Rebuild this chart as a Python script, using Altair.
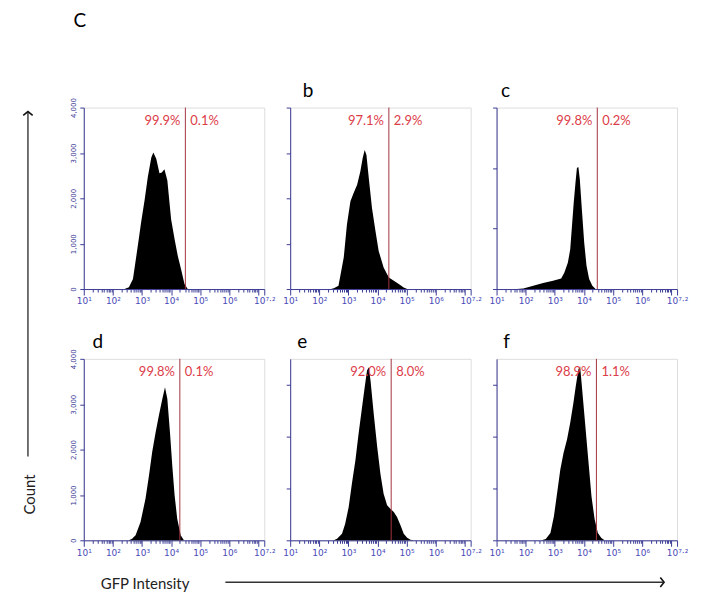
import math
import altair as alt
import pandas as pd

# ---- data: x = log10(GFP intensity), y = count ----
a_x = [2.40, 2.55, 2.69, 2.86, 2.97, 3.09, 3.20, 3.32, 3.39, 3.49, 3.60, 3.68, 3.77, 3.87, 4.00, 4.12, 4.23, 4.34, 4.46, 4.57]
a_y = [0, 40, 220, 970, 1470, 1960, 2470, 2900, 3010, 2870, 2550, 2570, 2640, 2400, 1540, 1100, 730, 440, 110, 0]

b_x = [2.40, 2.50, 2.66, 2.84, 2.95, 3.07, 3.18, 3.30, 3.41, 3.49, 3.56, 3.62, 3.70, 3.81, 3.93, 4.04, 4.21, 4.39, 4.56, 4.73, 4.90, 5.02]
b_y = [0, 20, 73, 693, 1423, 1934, 2117, 2300, 2590, 2883, 3066, 2956, 2445, 1788, 1277, 839, 474, 255, 182, 109, 36, 0]

c_x = [1.70, 1.92, 2.26, 2.60, 2.94, 3.22, 3.33, 3.45, 3.53, 3.59, 3.65, 3.71, 3.76, 3.81, 3.86, 3.93, 4.01, 4.09, 4.18, 4.29, 4.40]
c_y = [0, 11, 55, 99, 137, 176, 274, 439, 658, 1042, 1426, 1755, 2002, 2019, 1810, 1316, 768, 384, 165, 55, 0]

d_x = [2.55, 2.66, 2.78, 2.95, 3.12, 3.24, 3.35, 3.47, 3.58, 3.70, 3.79, 3.87, 3.96, 4.04, 4.12, 4.21, 4.33, 4.44]
d_y = [0, 37, 110, 404, 917, 1431, 1945, 2385, 2752, 3119, 3376, 3119, 2385, 1651, 991, 477, 110, 0]

e_x = [2.50, 2.61, 2.78, 2.89, 3.01, 3.12, 3.24, 3.35, 3.47, 3.56, 3.64, 3.70, 3.76, 3.87, 3.99, 4.10, 4.21, 4.33, 4.44, 4.56, 4.67, 4.79, 4.90, 5.02, 5.13, 5.25]
e_y = [0, 32, 128, 321, 642, 1092, 1541, 2055, 2569, 2954, 3276, 3340, 3083, 2441, 1798, 1285, 899, 674, 610, 546, 450, 289, 128, 51, 13, 0]

f_x = [2.55, 2.69, 2.85, 2.97, 3.08, 3.19, 3.30, 3.42, 3.53, 3.64, 3.72, 3.81, 3.87, 3.92, 4.03, 4.15, 4.26, 4.37, 4.48, 4.60, 4.71]
f_y = [0, 26, 142, 463, 914, 1364, 1686, 1943, 2265, 2651, 2973, 3295, 3359, 3037, 2329, 1557, 849, 399, 142, 45, 0]

panel_letters = ["", "b", "c", "d", "e", "f"]
gates = [4.49, 4.39, 4.46, 4.30, 4.47, 4.43]
left_pct = ["99.9%", "97.1%", "99.8%", "99.8%", "92.0%", "98.9%"]
right_pct = ["0.1%", "2.9%", "0.2%", "0.1%", "8.0%", "1.1%"]
y_max = [4000, 4000, 3000, 4000, 3500, 3500]
y_ticks = [0, 1000, 2000, 3000, 4000]
x_major = [1, 2, 3, 4, 5, 6, 7, 7.2]

xs = [a_x, b_x, c_x, d_x, e_x, f_x]
ys = [a_y, b_y, c_y, d_y, e_y, f_y]

# ---- styling ----
BLUE = "#3b3b96"
LBLUE = "#4a4ab8"
RED = "#dc3c48"
GATE = "#a3333f"
FONT = "Lato"
W, H = 181, 182
letter_dx = [0, 18, 9, 14, 12, 10]

minor = [n + math.log10(k) for n in range(1, 7) for k in range(2, 10)]
x_values = sorted(x_major + minor)

label_expr = ("datum.value == 1 ? '10\u00b9' : datum.value == 2 ? '10\u00b2' : "
              "datum.value == 3 ? '10\u00b3' : datum.value == 4 ? '10\u2074' : "
              "datum.value == 5 ? '10\u2075' : datum.value == 6 ? '10\u2076' : "
              "datum.value == 7.2 ? '10\u2077\u00b7\u00b2' : ''")


def panel(i):
    df = pd.DataFrame({"x": xs[i], "y": ys[i]})
    info = pd.DataFrame({"g": [gates[i]], "l": [left_pct[i]], "r": [right_pct[i]],
                         "letter": [panel_letters[i]]})
    xscale = alt.Scale(domain=[1, 7.2], nice=False, zero=False)
    yscale = alt.Scale(domain=[0, y_max[i]], nice=False)
    xaxis = alt.Axis(
        values=x_values, labelExpr=label_expr, labelOverlap=False, labelFlush=False,
        tickSize={"condition": {"test": "indexof([1,2,3,4,5,6,7,7.2], datum.value) >= 0", "value": 6}, "value": 3},
        labelFontSize=9, labelColor=LBLUE, labelPadding=2, grid=False, domainColor=BLUE,
        tickColor=BLUE, labelFont="DejaVu Sans", title=None)
    yvals = [v for v in y_ticks if v <= y_max[i]]
    show_labels = i in (0, 3)
    yaxis = alt.Axis(
        values=yvals, labelExpr="format(datum.value, ',')", labels=show_labels, labelAngle=270,
        labelAlign="center", labelBaseline="bottom", labelFontSize=7, labelColor=BLUE, tickSize=4,
        labelPadding=3, grid=False, domainColor=BLUE, tickColor=BLUE, labelFont="DejaVu Sans",
        labelOverlap=False, title=None)

    area = alt.Chart(df).mark_area(color="black", interpolate="linear").encode(
        x=alt.X("x:Q", scale=xscale, axis=xaxis),
        y=alt.Y("y:Q", scale=yscale, axis=yaxis),
    )
    base = alt.Chart(info)
    gx = alt.X("g:Q", scale=xscale, axis=xaxis)
    gate = base.mark_rule(color=GATE, strokeWidth=1).encode(x=gx)
    tl = base.mark_text(color=RED, fontSize=13, font=FONT, align="right", baseline="middle", dx=-5).encode(
        x=gx, y=alt.value(13), text="l:N")
    tr = base.mark_text(color=RED, fontSize=13, font=FONT, align="left", baseline="middle", dx=5).encode(
        x=gx, y=alt.value(13), text="r:N")
    layers = [area, gate, tl, tr]
    if panel_letters[i]:
        layers.append(base.mark_text(color="black", fontSize=19, font=FONT, align="center",
                                     baseline="middle").encode(
            x=alt.value(letter_dx[i]), y=alt.value(-17), text="letter:N"))
    if i == 0:
        layers.append(base.mark_text(color="black", fontSize=19, font=FONT, align="center",
                                     baseline="middle").encode(
            x=alt.value(-4), y=alt.value(-87), text=alt.value("C")))
    if i == 3:
        # Count axis arrow
        layers.append(base.mark_rule(color="#444", strokeWidth=1.5).encode(
            x=alt.value(-56), y=alt.value(-247), y2=alt.value(98)))
        layers.append(base.mark_point(shape="M -1 0.8 L 0 0 L 1 0.8", filled=False, color="#111",
                                      strokeWidth=1.6, size=90, opacity=1).encode(
            x=alt.value(-56), y=alt.value(-248)))
        layers.append(base.mark_text(color="#222", fontSize=15, font=FONT, angle=270, align="center",
                                     baseline="middle").encode(
            x=alt.value(-54), y=alt.value(136), text=alt.value("Count")))
        # GFP Intensity arrow
        layers.append(base.mark_rule(color="#333", strokeWidth=1.5).encode(
            x=alt.value(142), x2=alt.value(581), y=alt.value(224)))
        layers.append(base.mark_point(shape="M -0.8 -1 L 0 0 L -0.8 1", filled=False, color="#111",
                                      strokeWidth=1.6, size=90, opacity=1).encode(
            x=alt.value(582), y=alt.value(224)))
        layers.append(base.mark_text(color="#222", fontSize=15, font=FONT, align="left",
                                     baseline="middle").encode(
            x=alt.value(17), y=alt.value(226), text=alt.value("GFP Intensity")))
    return alt.layer(*layers).properties(width=W, height=H)


chart = alt.concat(*[panel(i) for i in range(6)], columns=3,
                   spacing={"row": 70, "column": 26}, bounds="flush").properties(
    padding={"left": 11, "top": 2, "right": 5, "bottom": 5}
).configure_view(stroke=BLUE, strokeWidth=1.2).configure_axis(labelOverlap=False).configure(background="white")

chart.save("out.html", embed_options={"renderer": "svg", "actions": False})
